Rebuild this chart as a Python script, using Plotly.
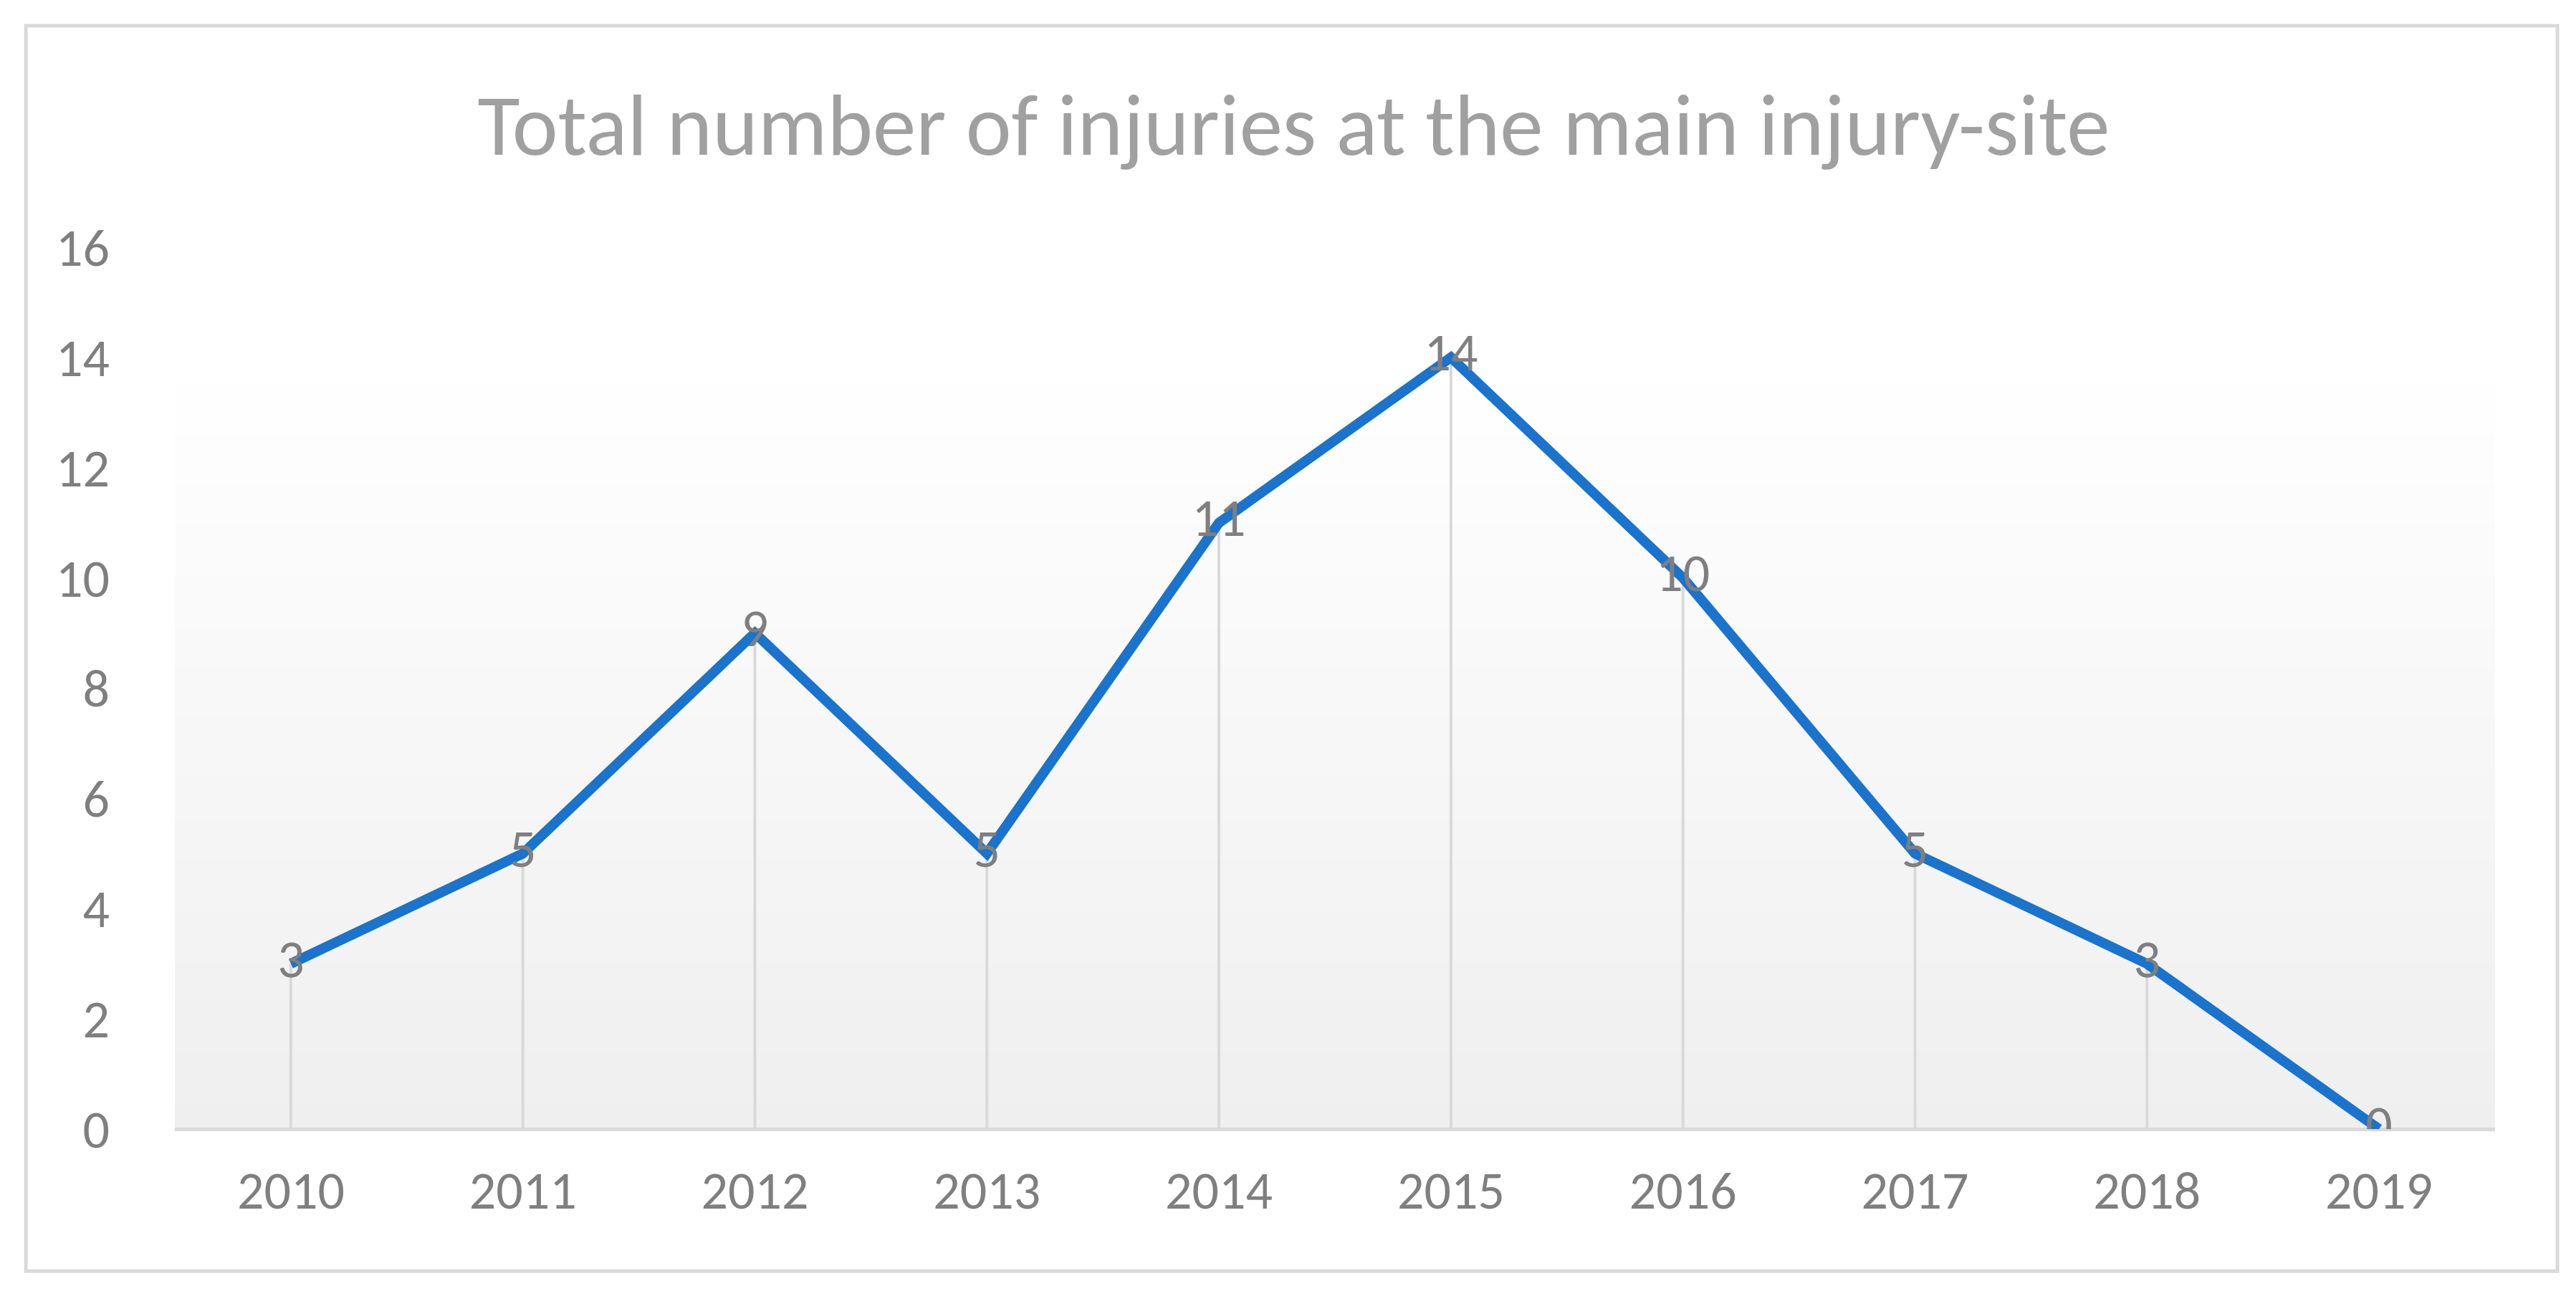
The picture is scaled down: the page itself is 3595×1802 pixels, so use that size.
import plotly.graph_objects as go

years = ["2010", "2011", "2012", "2013", "2014", "2015", "2016", "2017", "2018", "2019"]
injuries = [3, 5, 9, 5, 11, 14, 10, 5, 3, 0]
y_ticks = [0, 2, 4, 6, 8, 10, 12, 14, 16]

FONT = "Calibri, Carlito, Lato, sans-serif"
GRAY = "#7f7f7f"

fig = go.Figure()
# drop lines
fig.add_trace(go.Scatter(
    x=years, y=injuries, mode="markers", marker=dict(size=1, color="rgba(0,0,0,0)"),
    error_y=dict(type="data", symmetric=False, array=[0]*len(injuries), arrayminus=injuries,
                 color="#d9d9d9", thickness=4, width=0),
    hoverinfo="skip", showlegend=False))
fig.add_trace(go.Scatter(
    x=years, y=injuries, mode="lines+text", text=[str(v) for v in injuries],
    textposition="middle center", textfont=dict(size=74, color=GRAY, family=FONT),
    line=dict(color="#1a73cc", width=14), showlegend=False))

shapes = []
n = 60
top = 14.0
for i in range(n):
    y0 = top * i / n
    y1 = top * (i + 1) / n
    t = i / (n - 1)
    c = int(round(239 + (255 - 239) * t))
    shapes.append(dict(type="rect", xref="paper", yref="y", x0=0, x1=1, y0=y0, y1=y1 + 0.02,
                       fillcolor=f"rgb({c},{c},{c})", line=dict(width=0), layer="below"))
shapes.append(dict(type="rect", xref="paper", yref="paper", x0=-0.0642, x1=1.0269,
                   y0=-0.161, y1=1.251, line=dict(color="#d9d9d9", width=5),
                   fillcolor="rgba(0,0,0,0)", layer="above"))

fig.update_layout(
    width=3595, height=1802,
    margin=dict(l=236, r=121, t=337, b=234),
    paper_bgcolor="white", plot_bgcolor="white",
    title=dict(text="Total number of injuries at the main injury-site", x=0.5, xanchor="center",
               y=0.908, yanchor="middle", font=dict(size=121, color="#a0a0a0", family=FONT)),
    shapes=shapes,
    xaxis=dict(type="category", range=[-0.5, 9.5], showgrid=False, zeroline=False,
               showline=False, ticks="", tickfont=dict(size=74, color=GRAY, family=FONT),
               ticklabelstandoff=36),
    yaxis=dict(range=[0, 16], tickvals=y_ticks, showgrid=False, zeroline=True,
               zerolinecolor="#d9d9d9", zerolinewidth=5, showline=False, ticks="",
               tickfont=dict(size=74, color=GRAY, family=FONT), ticklabelstandoff=90),
)
fig.write_html("out.html")
